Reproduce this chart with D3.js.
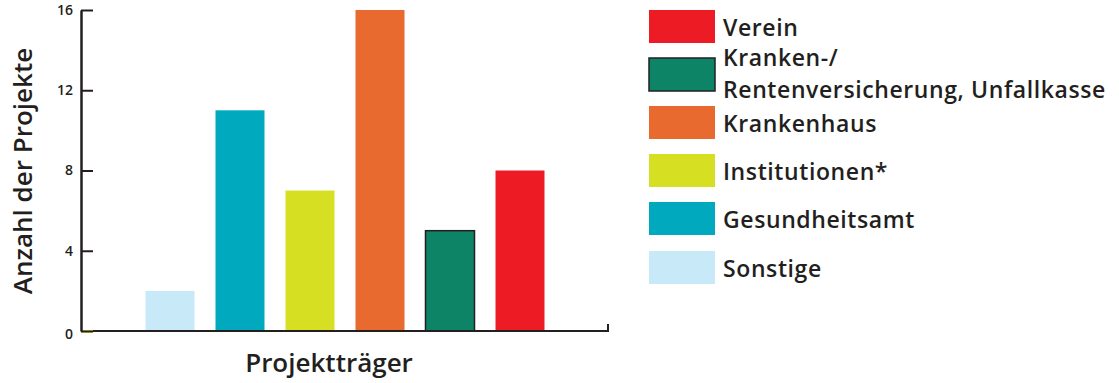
<!DOCTYPE html>
<html>
<head>
<meta charset="utf-8">
<script src="https://cdn.jsdelivr.net/npm/d3@7"></script>
<style>
  html, body { margin: 0; padding: 0; background: #fff; }
  svg { display: block; }
  text { font-family: "Open Sans", sans-serif; font-weight: 600; fill: #231f20; }
</style>
</head>
<body>
<svg id="chart" width="1119" height="383"></svg>
<script>
// Projects per sponsoring organisation
const categories = ["Sonstige", "Gesundheitsamt", "Institutionen*", "Krankenhaus",
                    "Kranken-/\nRentenversicherung, Unfallkasse", "Verein"];
const values = [2, 11, 7, 16, 5, 8];
const colors = ["#c7e9f8", "#00a9bd", "#d7df23", "#e86a2e", "#0e8466", "#ed1c24"];
const yTicks = [0, 4, 8, 12, 16];
const legendOrder = ["Verein", "Kranken-/\nRentenversicherung, Unfallkasse", "Krankenhaus",
                     "Institutionen*", "Gesundheitsamt", "Sonstige"];
const yTitle = "Anzahl der Projekte";
const xTitle = "Projektträger";

const ink = "#231f20";
const svg = d3.select("#chart");

const axisX = 81, axisRight = 608;
const y = d3.scaleLinear().domain([0, 16]).range([331, 10]);
const x = d3.scaleBand().domain(categories).range([135, 555])
  .paddingInner(0.3).paddingOuter(0.15);
const color = d3.scaleOrdinal().domain(categories).range(colors);

// bars
svg.append("g").selectAll("rect")
  .data(categories.map((c, i) => ({ c, v: values[i] })))
  .join("rect")
  .attr("x", d => x(d.c))
  .attr("y", d => y(d.v))
  .attr("width", x.bandwidth())
  .attr("height", d => y(0) - y(d.v))
  .attr("fill", d => color(d.c))
  .attr("stroke", d => d.c.startsWith("Kranken-") ? ink : "none")
  .attr("stroke-width", 1.5);

// small yellow marker at the origin
svg.append("rect")
  .attr("x", axisX).attr("y", y(0) - 1)
  .attr("width", 12).attr("height", 2.5)
  .attr("fill", "#f2e500");

// x axis line with a short end tick
svg.append("path")
  .attr("d", `M${axisX + 12},${y(0)}H${axisRight}V${y(0) - 7}`)
  .attr("fill", "none").attr("stroke", ink).attr("stroke-width", 2);

// y axis with inward ticks
const yAxis = svg.append("g")
  .attr("transform", `translate(${axisX},0)`)
  .call(d3.axisLeft(y).tickValues(yTicks).tickSizeInner(-12).tickSizeOuter(0).tickPadding(8));
yAxis.select(".domain").attr("stroke", ink).attr("stroke-width", 2.5);
yAxis.selectAll(".tick line").attr("stroke", ink).attr("stroke-width", 2);
yAxis.selectAll(".tick text")
  .style("font-family", "'Open Sans', sans-serif").style("font-size", "14px")
  .style("font-weight", 600).attr("fill", ink)
  .attr("dy", d => d === 0 ? "0.55em" : "0.32em");

// axis titles
svg.append("text")
  .attr("transform", `translate(32,171) rotate(-90)`)
  .attr("text-anchor", "middle")
  .style("font-size", "26px")
  .text(yTitle);

svg.append("text")
  .attr("x", 329).attr("y", 372)
  .attr("text-anchor", "middle")
  .style("font-size", "26px")
  .text(xTitle);

// legend
const legend = svg.append("g");
const rowY = [10, 58, 106, 154, 202, 251];
legendOrder.forEach((c, i) => {
  const g = legend.append("g").attr("transform", `translate(649,${rowY[i]})`);
  g.append("rect")
    .attr("width", 66).attr("height", 33)
    .attr("fill", color(c))
    .attr("stroke", c.startsWith("Kranken-") ? ink : "none")
    .attr("stroke-width", 1.5);
  const lines = c.split("\n");
  const t = g.append("text").attr("x", 74)
    .style("font-size", "23px").style("letter-spacing", "0.6px");
  if (lines.length === 1) {
    t.attr("y", 26).text(c);
  } else {
    lines.forEach((l, j) => t.append("tspan").attr("x", 74).attr("y", 8 + j * 32).text(l));
  }
});
</script>
</body>
</html>
